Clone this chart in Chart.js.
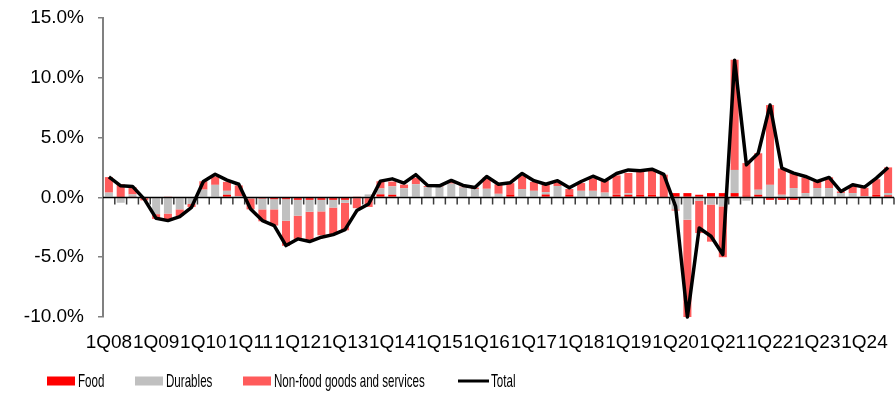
<!DOCTYPE html>
<html>
<head>
<meta charset="utf-8">
<script src="https://cdn.jsdelivr.net/npm/chart.js@4.4.1/dist/chart.umd.min.js"></script>
<style>
  html, body { margin: 0; padding: 0; background: #ffffff; }
  #wrap { width: 895px; height: 393px; position: relative; }
</style>
</head>
<body>
<div id="wrap"><canvas id="c" width="895" height="393"></canvas></div>
<script>
// Quarterly contributions to consumption growth, % y/y
const quarters = [
  '1Q08','2Q08','3Q08','4Q08','1Q09','2Q09','3Q09','4Q09',
  '1Q10','2Q10','3Q10','4Q10','1Q11','2Q11','3Q11','4Q11',
  '1Q12','2Q12','3Q12','4Q12','1Q13','2Q13','3Q13','4Q13',
  '1Q14','2Q14','3Q14','4Q14','1Q15','2Q15','3Q15','4Q15',
  '1Q16','2Q16','3Q16','4Q16','1Q17','2Q17','3Q17','4Q17',
  '1Q18','2Q18','3Q18','4Q18','1Q19','2Q19','3Q19','4Q19',
  '1Q20','2Q20','3Q20','4Q20','1Q21','2Q21','3Q21','4Q21',
  '1Q22','2Q22','3Q22','4Q22','1Q23','2Q23','3Q23','4Q23',
  '1Q24','2Q24','3Q24'
];

const food = [
  0.00, 0.05, 0.05, 0.00, 0.00, 0.05, 0.00, 0.00,
  0.00, 0.00, 0.22, 0.00, -0.05, -0.10, -0.15, -0.15,
  -0.20, -0.20, -0.20, -0.20, -0.20, 0.05, 0.00, 0.25,
  0.22, 0.00, 0.00, 0.00, 0.00, 0.00, 0.00, 0.00,
  0.00, 0.00, 0.24, 0.00, 0.00, 0.24, 0.00, 0.24,
  0.00, 0.00, 0.00, 0.24, 0.22, 0.22, 0.22, 0.05,
  0.36, 0.36, 0.22, 0.36, 0.36, 0.36, 0.17, 0.22,
  -0.20, -0.20, -0.20, 0.00, 0.00, 0.00, 0.00, 0.00,
  0.00, 0.22, 0.17
];

const durables = [
  0.40, -0.45, 0.20, 0.05, -1.40, -1.35, -1.00, -0.55,
  0.65, 1.05, 0.33, 0.10, -0.05, -0.90, -0.85, -1.80,
  -1.33, -1.00, -0.97, -0.65, -0.25, 0.00, 0.25, 0.50,
  0.70, 0.77, 1.10, 0.85, 0.90, 1.15, 0.83, 0.70,
  0.72, 0.30, 0.00, 0.70, 0.55, 0.20, 0.95, 0.00,
  0.55, 0.55, 0.40, 0.05, 0.12, 0.00, 0.00, 0.00,
  -1.00, -1.86, -0.28, -0.60, -0.75, 1.94, -0.28, 0.42,
  1.05, 0.22, 0.78, 0.36, 0.78, 0.78, 0.36, 0.36,
  0.10, 0.00, 0.20
];

const nonFood = [
  1.30, 1.05, 0.60, -0.25, -0.40, -0.55, -0.55, -0.25,
  0.70, 0.70, 0.75, 0.90, -0.90, -1.00, -1.35, -2.10,
  -1.94, -2.40, -2.00, -2.25, -2.30, -0.90, -0.80, 0.60,
  0.40, 0.30, 0.55, 0.10, 0.05, 0.20, 0.07, 0.12,
  0.95, 0.80, 0.95, 1.10, 0.75, 0.65, 0.30, 0.46,
  0.65, 1.05, 0.98, 1.55, 1.70, 1.90, 2.00, 1.85,
  -0.10, -8.20, -2.70, -3.10, -4.25, 9.20, 2.70, 3.05,
  6.67, 2.20, 1.25, 1.30, 0.55, 0.90, 0.14, 0.60,
  0.70, 1.30, 2.14
];

const total = [
  1.72, 0.97, 0.92, -0.14, -1.75, -1.94, -1.60, -0.83,
  1.33, 1.94, 1.44, 1.10, -0.97, -1.94, -2.36, -4.03,
  -3.47, -3.69, -3.33, -3.11, -2.70, -1.10, -0.55, 1.36,
  1.55, 1.20, 1.90, 1.00, 0.97, 1.42, 1.00, 0.83,
  1.75, 1.10, 1.23, 2.00, 1.40, 1.10, 1.40, 0.80,
  1.33, 1.77, 1.37, 2.00, 2.30, 2.22, 2.36, 1.92,
  -0.75, -10.00, -2.56, -3.25, -4.78, 11.47, 2.72, 3.69,
  7.72, 2.44, 2.03, 1.75, 1.33, 1.67, 0.50, 1.06,
  0.86, 1.61, 2.50
];

const yTicks = [-10, -5, 0, 5, 10, 15];
const seriesNames = ['Food', 'Durables', 'Non-food goods and services', 'Total'];

const FONT = '"Liberation Sans", Arial, sans-serif';

// Zero axis with category tick marks, painted just before the total line
const zeroAxis = {
  id: 'zeroAxis',
  beforeDatasetDraw(chart, args) {
    if (args.meta.type !== 'line') return;
    const { ctx, chartArea, scales: { x, y } } = chart;
    const y0 = y.getPixelForValue(0);
    const step = x.getPixelForValue(1) - x.getPixelForValue(0);
    ctx.save();
    ctx.strokeStyle = '#3c3c3c';
    ctx.lineWidth = 1.5;
    ctx.beginPath();
    for (let i = 1; i <= quarters.length; i++) {
      const xb = x.getPixelForValue(i) - step / 2;
      ctx.moveTo(xb, y0);
      ctx.lineTo(xb, y0 + 7);
    }
    ctx.stroke();
    ctx.strokeStyle = '#000000';
    ctx.lineWidth = 1.5;
    ctx.beginPath();
    ctx.moveTo(chartArea.left, y0);
    ctx.lineTo(chartArea.right, y0);
    ctx.stroke();
    ctx.restore();
  }
};

// Legend row along the bottom edge, with narrow lettering
const legendRow = {
  id: 'legendRow',
  afterDraw(chart) {
    const { ctx } = chart;
    const slots = [47, 135, 243, 458];
    const cy = 381;
    ctx.save();
    ctx.font = '19px ' + FONT;
    ctx.fillStyle = '#000000';
    ctx.textBaseline = 'middle';
    chart.data.datasets.forEach((ds, i) => {
      const sx = slots[i];
      if (ds.type === 'line') {
        ctx.strokeStyle = ds.borderColor;
        ctx.lineWidth = 3;
        ctx.beginPath();
        ctx.moveTo(sx, cy);
        ctx.lineTo(sx + 31, cy);
        ctx.stroke();
      } else {
        ctx.fillStyle = ds.backgroundColor;
        ctx.fillRect(sx, cy - 4.5, 28, 9);
      }
      ctx.fillStyle = '#000000';
      ctx.save();
      ctx.translate(sx + (ds.type === 'line' ? 33 : 31), cy + 1);
      ctx.scale(0.61, 1);
      ctx.fillText(ds.label, 0, 0);
      ctx.restore();
    });
    ctx.restore();
  }
};

const barCommon = {
  type: 'bar',
  stack: 'parts',
  order: 1,
  borderWidth: 0,
  barPercentage: 0.68,
  categoryPercentage: 1.0
};

new Chart(document.getElementById('c'), {
  type: 'bar',
  data: {
    labels: quarters,
    datasets: [
      Object.assign({ label: seriesNames[0], data: food, backgroundColor: '#FF0000' }, barCommon),
      Object.assign({ label: seriesNames[1], data: durables, backgroundColor: '#C0C0C0' }, barCommon),
      Object.assign({ label: seriesNames[2], data: nonFood, backgroundColor: '#FF5B5B' }, barCommon),
      {
        type: 'line',
        label: seriesNames[3],
        data: total,
        stack: 'total',
        order: 0,
        borderColor: '#000000',
        borderWidth: 3.5,
        pointRadius: 0,
        tension: 0,
        fill: false,
        borderJoinStyle: 'round',
        clip: false
      }
    ]
  },
  options: {
    responsive: false,
    animation: false,
    devicePixelRatio: 1,
    layout: { padding: { top: 18, right: 1, left: 0, bottom: 0 } },
    plugins: {
      legend: { display: false },
      tooltip: { enabled: false }
    },
    scales: {
      x: {
        stacked: true,
        offset: true,
        grid: { display: false, drawTicks: false },
        border: { display: false },
        ticks: {
          autoSkip: false,
          maxRotation: 0,
          minRotation: 0,
          padding: 14,
          color: '#000000',
          font: { family: FONT, size: 19 },
          callback: function (value, index) {
            return index % 4 === 0 ? quarters[index] : '';
          }
        },
        afterFit(scale) {
          scale.height = 76;
          scale.paddingLeft = 0;
          scale.paddingRight = 0;
        }
      },
      y: {
        stacked: true,
        min: -10,
        max: 15,
        afterBuildTicks(scale) { scale.ticks = yTicks.map(v => ({ value: v })); },
        grid: {
          display: true,
          drawOnChartArea: false,
          drawTicks: true,
          tickLength: 5,
          color: '#808080',
          lineWidth: 1.5
        },
        border: { display: true, color: '#808080', width: 2 },
        ticks: {
          padding: 14,
          color: '#000000',
          font: { family: FONT, size: 19 },
          callback: v => v.toFixed(1) + '%'
        },
        afterFit(scale) {
          scale.width = 103;
          scale.paddingTop = 0;
          scale.paddingBottom = 0;
        }
      }
    }
  },
  plugins: [zeroAxis, legendRow]
});
</script>
</body>
</html>
